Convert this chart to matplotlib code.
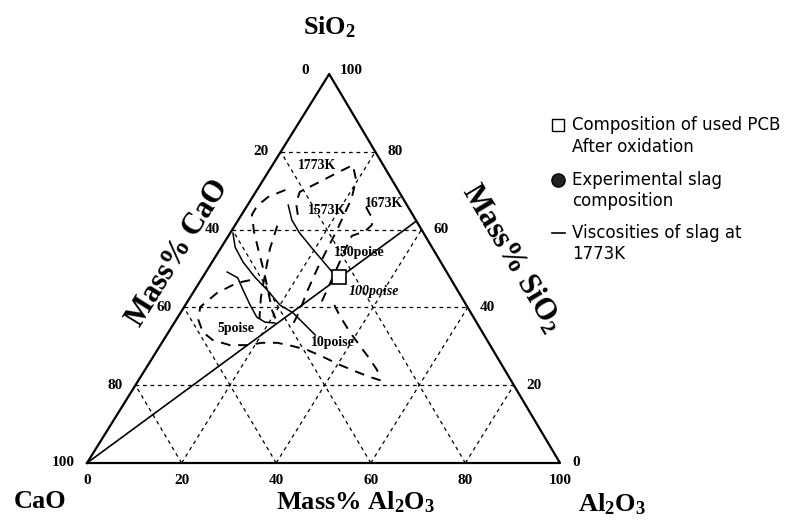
import numpy as np
import matplotlib.pyplot as plt

plt.rcParams['mathtext.fontset'] = 'custom'
plt.rcParams['mathtext.rm'] = 'Liberation Serif:bold'
plt.rcParams['mathtext.bf'] = 'Liberation Serif:bold'
plt.rcParams['mathtext.it'] = 'Liberation Serif:bold:italic'

# compositions in mass% (Al2O3, SiO2), CaO is the rest
ticks = [0, 20, 40, 60, 80, 100]

# viscosity lines at 1773K (solid)
v5_al = [4.5, 7.5, 10.2, 13.7, 16.7, 19.1, 21.3]
v5_si = [49.1, 47.6, 44.5, 40.6, 37.5, 36.2, 36.0]
v10_al = [0.6, 2.9, 6.5, 11.0, 15.3, 20.0, 23.8, 28.6, 31.4]
v10_si = [59.1, 55.5, 51.7, 47.8, 44.5, 40.6, 38.6, 35.0, 32.9]
v150_al = [8.6, 11.3, 14.7, 19.8, 26.7]
v150_si = [66.3, 62.5, 59.1, 54.8, 49.1]

# liquidus lines (dashed)
t1773_al = [11.9, 10.0, 9.3, 11.9, 14.7, 17.0, 19.6, 21.1, 21.6, 22.2, 22.6, 23.1, 23.9, 24.9, 25.3]
t1773_si = [63.8, 66.8, 69.7, 72.0, 74.6, 76.6, 72.8, 68.1, 64.3, 59.9, 55.3, 50.1, 44.5, 39.3, 35.5]
t1573_al = [6.0, 3.3, 2.1, 2.2, 4.9, 8.6, 12.3, 15.8, 19.0, 22.2]
t1573_si = [70.2, 68.4, 66.1, 63.8, 59.4, 54.2, 49.1, 44.0, 39.3, 35.5]
t1673_al = [25.3, 27.8, 28.9, 28.3, 26.1, 26.5, 27.2, 27.9, 28.5]
t1673_si = [65.8, 63.2, 61.2, 59.6, 58.4, 54.8, 50.1, 45.0, 40.6]
mid_al = [9.0, 10.5, 12.8, 15.0, 17.5]
mid_si = [61.0, 55.0, 48.5, 42.5, 37.0]
lobe_al = [10.4, 8.0, 5.1, 3.4, 4.7, 7.2, 10.4, 14.7, 18.3, 21.2, 24.4, 27.9, 31.6, 35.9,
           40.6, 45.1, 48.5, 51.0, 49.1, 45.8, 42.3, 38.3, 34.1, 30.3]
lobe_si = [47.0, 46.3, 43.7, 40.1, 36.8, 33.7, 31.6, 30.3, 30.3, 30.9, 30.9, 30.1, 29.1, 27.3,
           25.2, 23.4, 22.1, 21.3, 23.9, 27.0, 30.1, 33.7, 37.8, 41.9]

# used PCB after oxidation and its join line from CaO
pcb_al, pcb_si = 28.8, 47.8
join_al = [0, 37.8]
join_si = [0, 62.2]

labels = ['1773K', '1573K', '1673K', '150poise', '100poise', '5poise', '10poise']
label_al = [9.5, 17.4, 28.6, 29.9, 38.2, 13.7, 36.2]
label_si = [76.4, 65.0, 66.8, 54.2, 44.0, 34.7, 30.9]

legend_lines = ['Composition of used PCB', 'After oxidation', 'Experimental slag',
                'composition', 'Viscosities of slag at', '1773K']

APEX = 51.2


def tern(al, si):
    al = np.asarray(al, float)
    si = np.asarray(si, float)
    return al + si * APEX / 100.0, si


fig = plt.figure(figsize=(8.03, 5.23), dpi=100)
ax = fig.add_axes([87 / 803, 60 / 523, 473 / 803, 389 / 523])
ax.set_xlim(0, 100)
ax.set_ylim(0, 100)
ax.axis('off')

serif = 'Liberation Serif'

# grid
for v in ticks[1:-1]:
    for al, si in [([0, 100 - v], [v, v]), ([v, v], [0, 100 - v]), ([100 - v, 0], [0, 100 - v])]:
        x, y = tern(al, si)
        ax.plot(x, y, color='k', lw=0.9, ls=(0, (3, 3)), clip_on=False)

x, y = tern([0, 100, 0, 0], [0, 0, 100, 0])
ax.plot(x, y, 'k-', lw=1.6, clip_on=False)

# curves
for al, si in [(t1773_al, t1773_si), (t1573_al, t1573_si), (t1673_al, t1673_si),
               (mid_al, mid_si), (lobe_al, lobe_si)]:
    x, y = tern(al, si)
    ax.plot(x, y, color='k', lw=1.4, ls=(0, (5, 4)))
for al, si in [(v5_al, v5_si), (v10_al, v10_si), (v150_al, v150_si)]:
    x, y = tern(al, si)
    ax.plot(x, y, color='k', lw=1.1)

x, y = tern(join_al, join_si)
ax.plot(x, y, color='k', lw=1.2)
x, y = tern([pcb_al], [pcb_si])
ax.plot(x, y, 's', ms=10, mfc='white', mec='k', mew=1.2)

for t, al, si in zip(labels, label_al, label_si):
    x, y = tern([al], [si])
    st = 'italic' if t == '100poise' else 'normal'
    ax.text(x[0], y[0], t, family=serif, weight='bold', style=st, fontsize=10,
            ha='center', va='center')

# tick labels
tk = dict(family=serif, weight='bold', fontsize=11, textcoords='offset pixels',
          va='center', annotation_clip=False)
for v in ticks:
    # left edge: CaO
    x, y = tern([0], [100 - v])
    if v == 0:
        ax.annotate(str(v), (x[0], y[0]), xytext=(-24, 3), ha='center', **tk)
    elif v == 100:
        ax.annotate(str(v), (x[0], y[0]), xytext=(-24, 0), ha='center', **tk)
    else:
        ax.annotate(str(v), (x[0], y[0]), xytext=(-20, 0), ha='center', **tk)
    # right edge: SiO2
    x, y = tern([100 - v], [v])
    if v == 100:
        ax.annotate(str(v), (x[0], y[0]), xytext=(22, 3), ha='center', **tk)
    elif v == 0:
        ax.annotate(str(v), (x[0], y[0]), xytext=(16, 0), ha='center', **tk)
    else:
        ax.annotate(str(v), (x[0], y[0]), xytext=(20, 0), ha='center', **tk)
    # bottom: Al2O3
    x, y = tern([v], [0])
    ax.annotate(str(v), (x[0], y[0]), xytext=(0, -18), ha='center', **tk)

# titles
big = dict(family=serif, weight='bold', ha='center', va='center', transform=fig.transFigure)
fig.text(330 / 803, 1 - 27 / 523, r'SiO$_\mathregular{2}$', fontsize=19, **big)
fig.text(40 / 803, 1 - 502 / 523, 'CaO', fontsize=19, **big)
fig.text(612 / 803, 1 - 504 / 523, r'Al$_\mathregular{2}$O$_\mathregular{3}$', fontsize=19, **big)
fig.text(356 / 803, 1 - 502 / 523, r'Mass% Al$_\mathregular{2}$O$_\mathregular{3}$', fontsize=19, **big)
fig.text(178 / 803, 1 - 253 / 523, 'Mass% CaO', fontsize=22, rotation=58, **big)
fig.text(512 / 803, 1 - 258 / 523, r'Mass% SiO$_\mathregular{2}$', fontsize=22, rotation=-59, **big)

# legend
lg = dict(family='DejaVu Sans', fontsize=12, va='center', transform=fig.transFigure)
for t, yy in zip(legend_lines, [125, 147, 180, 201, 233, 254]):
    fig.text(572 / 803, 1 - yy / 523, t, **lg)
fig.lines.append(plt.Line2D([558 / 803], [1 - 125 / 523], marker='s', ms=8, mfc='white',
                            mec='k', mew=1, transform=fig.transFigure))
fig.lines.append(plt.Line2D([558 / 803], [1 - 180 / 523], marker='o', ms=9.5, mfc='#222222',
                            mec='k', transform=fig.transFigure))
fig.lines.append(plt.Line2D([552 / 803, 565 / 803], [1 - 233 / 523] * 2, color='k', lw=1.2,
                            transform=fig.transFigure))

fig.savefig('out.png', dpi=100)
